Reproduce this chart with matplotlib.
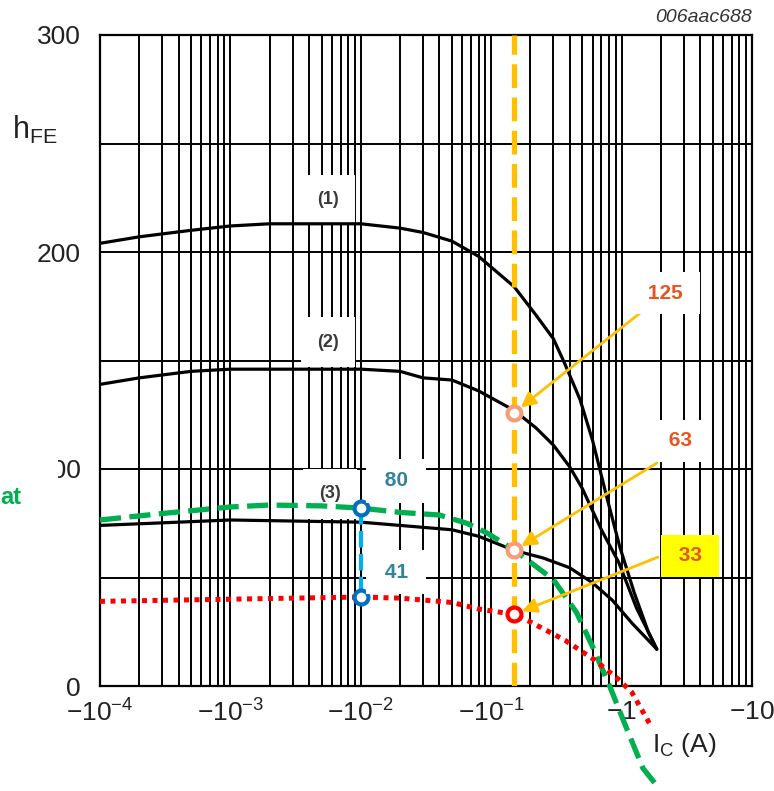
import matplotlib
matplotlib.use('Agg')
import matplotlib.pyplot as plt
from matplotlib.patches import Rectangle
from matplotlib.ticker import LogLocator, FixedLocator, NullFormatter

plt.rcParams['font.family'] = ['Liberation Sans', 'DejaVu Sans']
plt.rcParams['mathtext.fontset'] = 'custom'
plt.rcParams['mathtext.rm'] = 'Liberation Sans'
plt.rcParams['mathtext.it'] = 'Liberation Sans:italic'
plt.rcParams['mathtext.bf'] = 'Liberation Sans:bold'

# ---------------- data ----------------
ic1 = [1e-4, 2e-4, 5e-4, 1e-3, 2e-3, 5e-3, 1e-2, 2e-2, 3e-2, 5e-2, 0.08, 0.15, 0.22, 0.3, 0.37, 0.48, 0.6, 0.77, 0.97, 1.25, 1.6, 1.86]
h1 = [204, 207, 210, 212, 213, 213, 213, 211, 209, 205, 198, 184, 171, 160, 148, 132, 113, 87, 64, 43, 25, 17]

ic2 = [1e-4, 2e-4, 5e-4, 1e-3, 2e-3, 5e-3, 1e-2, 2e-2, 3e-2, 5e-2, 0.08, 0.15, 0.22, 0.3, 0.4, 0.5, 0.7, 0.95, 1.3, 1.86]
h2 = [139, 142, 145, 146, 146, 146, 146, 145, 142, 141, 136, 127, 119, 111, 101, 91, 72, 57, 36, 17]

ic3 = [1e-4, 1e-3, 1e-2, 2e-2, 5e-2, 0.08, 0.15, 0.25, 0.4, 0.6, 0.85, 1.2, 1.86]
h3 = [74, 76.5, 75.5, 74, 72, 69, 62.5, 59, 54.5, 47.5, 39.5, 29, 17]

ic_green = [1e-4, 3e-4, 1e-3, 2e-3, 5e-3, 1e-2, 2e-2, 0.04, 0.065, 0.093, 0.15, 0.3, 0.45, 0.6, 0.81, 1.1, 1.46, 1.9]
h_green = [76.5, 79.5, 82.5, 83.4, 83, 82, 80, 78.8, 75, 70.5, 62.7, 49, 34, 18, 0, -20, -38, -46.5]

ic_red = [1e-4, 1e-3, 1e-2, 2e-2, 5e-2, 0.08, 0.15, 0.2, 0.37, 0.62, 0.95, 1.2, 1.7]
h_red = [39, 40, 41, 40.5, 38.5, 35.5, 33, 29.5, 21, 12, 3, -3, -19]

curve_labels = ['(1)', '(2)', '(3)']
ic_mark_blue = 0.01
h_mark_blue = [82, 41]
blue_texts = ['80', '41']
ic_mark_orange = 0.15
h_mark_orange = [126, 62.5, 33]
orange_texts = ['125', '63', '33']

xtick_vals = [1e-4, 1e-3, 1e-2, 1e-1, 1, 10]
xtick_labels = [r'$-10^{-4}$', r'$-10^{-3}$', r'$-10^{-2}$', r'$-10^{-1}$', r'$-1$', r'$-10$']
ytick_vals = [0, 50, 100, 150, 200, 250, 300]
ytick_labels = ['0', '', '100', '', '200', '', '300']

# ---------------- figure ----------------
W, H = 774, 791
fig = plt.figure(figsize=(W / 100, H / 100), dpi=100)
ax = fig.add_axes([100 / W, 1 - 686 / H, 652 / W, 651 / H])
ax.set_xscale('log')
ax.set_xlim(1e-4, 10)
ax.set_ylim(0, 300)

ax.xaxis.set_major_locator(FixedLocator(xtick_vals))
ax.set_xticklabels(xtick_labels)
ax.xaxis.set_minor_locator(LogLocator(base=10, subs=range(2, 10), numticks=50))
ax.xaxis.set_minor_formatter(NullFormatter())
ax.set_yticks(ytick_vals)
ax.set_yticklabels(ytick_labels)
ax.tick_params(which='both', length=0)
ax.tick_params(axis='y', labelsize=19, pad=14, colors='#222222')
ax.tick_params(axis='x', labelsize=19, pad=10, colors='#222222')
ax.set_axisbelow(True)
ax.grid(which='both', axis='x', color='black', lw=1.4)
ax.grid(which='major', axis='y', color='black', lw=1.4)
for s in ax.spines.values():
    s.set_linewidth(1.6)
    s.set_color('black')

# curve labels with white boxes
lab_pos = [(5.6e-3, 224), (5.6e-3, 158.5), (5.8e-3, 88.5)]
for t, (x, y) in zip(curve_labels, lab_pos):
    ax.text(x, y, t, fontsize=13, fontweight='bold', color='#3a3a3a', ha='center', va='center',
            zorder=1, bbox=dict(boxstyle='square,pad=0.9', fc='white', ec='none'))

# black curves
for ic, h in [(ic1, h1), (ic2, h2), (ic3, h3)]:
    ax.plot(ic, h, color='black', lw=2.3, zorder=2, solid_capstyle='round',
            solid_joinstyle='round')

# orange vertical dashed
ax.plot([ic_mark_orange, ic_mark_orange], [0, 300], color='#FFC000', lw=3.8,
        linestyle=(0, (4.5, 1.8)), zorder=3)

# green and red curves
ax.plot(ic_green, h_green, color='#00B050', lw=3.8, linestyle=(0, (4, 1.6)),
        zorder=4, clip_on=False)
ax.plot(ic_red, h_red, color='#FF0000', lw=3.6, linestyle=(0, (1, 1.1)),
        zorder=4, clip_on=False)

# blue vertical dashed
ax.plot([ic_mark_blue, ic_mark_blue], h_mark_blue, color='#00B0F0', lw=3,
        linestyle=(0, (4, 1.5)), zorder=5)

# markers
ax.plot([ic_mark_blue] * 2, h_mark_blue, 'o', ms=10, mfc='white', mec='#0070C0',
        mew=3, zorder=6, linestyle='none')
ax.plot([ic_mark_orange] * 2, h_mark_orange[:2], 'o', ms=10, mfc='white', mec='#F79B78',
        mew=3, zorder=6, linestyle='none')
ax.plot([ic_mark_orange], h_mark_orange[2:], 'o', ms=10, mfc='white', mec='#FF0000',
        mew=3, zorder=6, linestyle='none')

# blue value labels
for t, (x, y) in zip(blue_texts, [(0.0186, 94.5), (0.0186, 52.5)]):
    ax.text(x, y, ' ' + t + ' ', fontsize=15, fontweight='bold', color='#31849B', ha='center',
            va='center', zorder=7, bbox=dict(boxstyle='square,pad=0.6', fc='white', ec='none'))

# arrows
arrow_tails = [(1.59, 174.7), (1.87, 102.8), (1.90, 59.4)]
for (tx, ty), hy in zip(arrow_tails, h_mark_orange):
    ax.annotate('', xy=(ic_mark_orange, hy), xytext=(tx, ty),
                arrowprops=dict(arrowstyle='-|>', color='#FFC000', lw=2,
                                mutation_scale=22, shrinkA=0, shrinkB=6),
                zorder=7, annotation_clip=False)

# orange value labels
orange_pos = [(2.15, 181), (2.8, 113), (3.35, 60)]
orange_bg = ['white', 'white', '#FFFF00']
for t, (x, y), bg in zip(orange_texts, orange_pos, orange_bg):
    ax.text(x, y, ' ' + t + ' ', fontsize=15, fontweight='bold', color='#E8541E', ha='center',
            va='center', zorder=8, bbox=dict(boxstyle='square,pad=0.55', fc=bg, ec='none'))

# axis labels
fig.text(12 / W, 1 - 130 / H, r'$\mathregular{h_{FE}}$', fontsize=22, color='#222222',
         ha='left', va='center')
fig.text(652 / W, 1 - 745 / H, r'$\mathregular{I_C}$ (A)', fontsize=19, color='#222222',
         ha='left', va='center')
fig.text(752 / W, 1 - 18 / H, '006aac688', fontsize=14, style='italic', color='#333333',
         ha='right', va='center')

# white box hiding part of "100" and cut-off green label
fig.patches.append(Rectangle((0, 1 - 515 / H), 58 / W, 65 / H, transform=fig.transFigure,
                             fc='white', ec='none', zorder=5))
fig.text(0 / W, 1 - 497 / H, 'at', fontsize=17, fontweight='bold', color='#00B050',
         ha='left', va='center', zorder=6)

fig.savefig('out.png', dpi=100)
